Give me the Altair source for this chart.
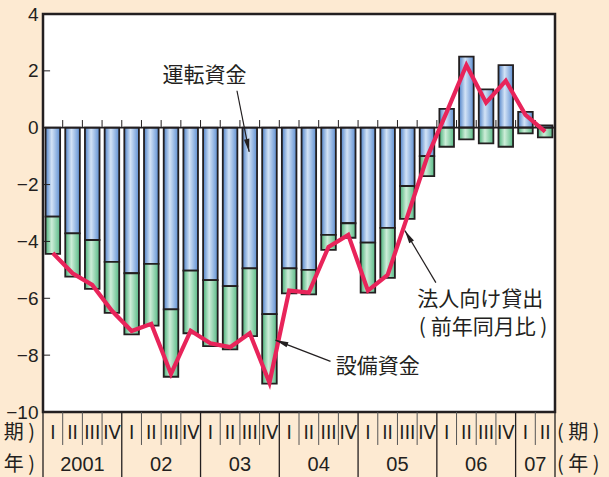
import math
import altair as alt
import pandas as pd

# ---------------- data ----------------
quarter_labels = ["I", "II", "III", "IV"] * 6 + ["I", "II"]
year_labels = ["2001", "02", "03", "04", "05", "06", "07"]
year_centers = [2, 6, 10, 14, 18, 22, 25]
year_bounds = [0, 4, 8, 12, 16, 20, 24, 26]

# 運転資金 contribution
unten = [-3.13, -3.72, -3.95, -4.72, -5.12, -4.79, -6.39, -5.03, -5.36, -5.57,
         -4.95, -6.56, -4.95, -5.00, -3.77, -3.36, -4.04, -3.52, -2.05, -1.00,
         0.66, 2.50, 1.35, 2.20, 0.56, 0.08]
# 設備資金 contribution
setsubi = [-1.31, -1.52, -1.72, -1.79, -2.15, -2.17, -2.37, -2.20, -2.32, -2.23,
           -2.38, -2.44, -0.88, -0.86, -0.53, -0.51, -1.76, -1.76, -1.16, -0.70,
           -0.67, -0.41, -0.55, -0.67, -0.20, -0.34]
# 法人向け貸出（前年同月比）
lending = [-4.41, -5.12, -5.53, -6.44, -7.15, -6.90, -8.66, -7.14, -7.58, -7.72,
           -7.23, -8.97, -5.73, -5.80, -4.19, -3.77, -5.73, -5.18, -3.13, -1.05,
           0.55, 2.20, 0.88, 1.65, 0.45, -0.14]

y_ticks = [-10, -8, -6, -4, -2, 0, 2, 4]

annot_texts = ["運転資金", "設備資金", "法人向け貸出", "( 前年同月比 )"]
annot_x = [8.2, 17.0, 22.2, 22.35]
annot_y = [1.82, -8.41, -6.06, -7.05]

arrow_x = [9.85, 14.6, 19.95]
arrow_y = [1.30, -8.22, -5.45]
arrow_x2 = [10.47, 11.8, 18.38]
arrow_y2 = [-0.85, -7.47, -3.62]

# ---------------- layout ----------------
W, H = 512, 398
NQ = len(unten)
XD = [0, NQ]
YD = [-10, 4]
INK = "#231F20"

xs = alt.Scale(domain=XD, nice=False, zero=False)
ys = alt.Scale(domain=YD, nice=False, zero=False)
yaxis = alt.Axis(values=y_ticks, ticks=False, domain=False, grid=False,
                 labelFontSize=19, labelFont="Liberation Sans", labelColor=INK,
                 labelPadding=5, title=None)


def X(f="x"):
    return alt.X(f"{f}:Q", scale=xs, axis=None)


def Y(f="y"):
    return alt.Y(f"{f}:Q", scale=ys, axis=yaxis)


# bars
blue_rows, green_rows = [], []
for i in range(NQ):
    u, s = unten[i], setsubi[i]
    blue_rows.append(dict(x=i + 0.13, x2=i + 0.87, y=0, y2=u))
    base = u if u < 0 else 0
    green_rows.append(dict(x=i + 0.13, x2=i + 0.87, y=base, y2=base + s))

blue_grad = alt.LinearGradient(
    gradient="linear", x1=0, x2=1, y1=0, y2=0,
    stops=[alt.GradientStop(color="#4F82C8", offset=0),
           alt.GradientStop(color="#D3E3F6", offset=0.42),
           alt.GradientStop(color="#5E8FD2", offset=1)])
green_grad = alt.LinearGradient(
    gradient="linear", x1=0, x2=1, y1=0, y2=0,
    stops=[alt.GradientStop(color="#48B078", offset=0),
           alt.GradientStop(color="#CDEDD8", offset=0.42),
           alt.GradientStop(color="#58BA86", offset=1)])

blue = alt.Chart(pd.DataFrame(blue_rows)).mark_bar(
    color=blue_grad, stroke=INK, strokeWidth=1.8).encode(
    x=X(), x2="x2:Q", y=Y(), y2="y2:Q")
green = alt.Chart(pd.DataFrame(green_rows)).mark_bar(
    color=green_grad, stroke=INK, strokeWidth=1.8).encode(
    x=X(), x2="x2:Q", y=Y(), y2="y2:Q")

# zero line and small ticks on it
zero = alt.Chart(pd.DataFrame({"x": [0], "x2": [NQ], "y": [0]})).mark_rule(
    color=INK, strokeWidth=1.8).encode(x=X(), x2="x2:Q", y=Y())
zt = alt.Chart(pd.DataFrame({"x": list(range(1, NQ)), "y": [0] * (NQ - 1),
                             "y2": [0.27] * (NQ - 1)})).mark_rule(
    color=INK, strokeWidth=1).encode(x=X(), y=Y(), y2="y2:Q")

# inward y ticks
ytk = [v for v in y_ticks if v not in (0, -10, 4)]
ytick = alt.Chart(pd.DataFrame({"x": [0] * len(ytk), "x2": [0.36] * len(ytk),
                                "y": ytk})).mark_rule(
    color=INK, strokeWidth=1).encode(x=X(), x2="x2:Q", y=Y())

# lending line
line = alt.Chart(pd.DataFrame({"x": [i + 0.5 for i in range(NQ)],
                               "y": lending})).mark_line(
    color="#E8245A", strokeWidth=4.2, strokeJoin="miter").encode(x=X(), y=Y())

# arrows
arr = alt.Chart(pd.DataFrame({"x": arrow_x, "y": arrow_y, "x2": arrow_x2,
                              "y2": arrow_y2})).mark_rule(
    color=INK, strokeWidth=1.2).encode(x=X(), y=Y(), x2="x2:Q", y2="y2:Q")
px_per_x = W / (XD[1] - XD[0])
px_per_y = H / (YD[1] - YD[0])
angles = []
for a, b, c, d in zip(arrow_x, arrow_y, arrow_x2, arrow_y2):
    dx = (c - a) * px_per_x
    dy = -(d - b) * px_per_y
    angles.append(math.degrees(math.atan2(dx, -dy)) % 360)
heads = alt.Chart(pd.DataFrame({"x": arrow_x2, "y": arrow_y2,
                                "a": angles})).mark_point(
    shape="M0,0L0.42,2L-0.42,2Z", filled=True, color=INK, opacity=1,
    size=170, strokeWidth=0).encode(
    x=X(), y=Y(), angle=alt.Angle("a:Q", scale=None))

# annotation texts
ann = alt.Chart(pd.DataFrame({"x": annot_x, "y": annot_y,
                              "t": annot_texts})).mark_text(
    font="Noto Sans CJK JP", fontSize=21, color=INK, align="center",
    baseline="middle").encode(x=X(), y=Y(), text="t:N")

# bottom category rows
qsep = [i for i in range(1, NQ) if i not in year_bounds]
qs = alt.Chart(pd.DataFrame({"x": qsep, "y": [-10] * len(qsep),
                             "y2": [-11.16] * len(qsep)})).mark_rule(
    color="#555", strokeWidth=1).encode(x=X(), y=Y(), y2="y2:Q")
ysep = alt.Chart(pd.DataFrame({"x": year_bounds, "y": [-10] * len(year_bounds),
                               "y2": [-12.6] * len(year_bounds)})).mark_rule(
    color=INK, strokeWidth=1.3).encode(x=X(), y=Y(), y2="y2:Q")
ql = alt.Chart(pd.DataFrame({"x": [i + 0.5 for i in range(NQ)],
                             "y": [-10.74] * NQ, "t": quarter_labels})).mark_text(
    font="Liberation Sans Narrow, DejaVu Sans Condensed, Liberation Sans",
    fontSize=20, color=INK, baseline="middle").encode(
    x=X(), y=Y(), text="t:N")
yl = alt.Chart(pd.DataFrame({"x": year_centers, "y": [-11.86] * len(year_centers),
                             "t": year_labels})).mark_text(
    font="Liberation Sans", fontSize=20, color=INK, baseline="middle").encode(
    x=X(), y=Y(), text="t:N")
side_df = pd.DataFrame({
    "x": [26.1, 26.1, -0.41, -0.41],
    "y": [-10.74, -11.86, -10.74, -11.86],
    "t": ["( 期 )", "( 年 )", "( 期 )", "( 年 )"],
    "al": ["l", "l", "r", "r"]})
side = alt.Chart(side_df).encode(x=X(), y=Y(), text="t:N")
side_r = side.transform_filter("datum.al == 'l'").mark_text(
    font="Noto Sans CJK JP", fontSize=20, color=INK, baseline="middle",
    align="left")
side_l = side.transform_filter("datum.al == 'r'").mark_text(
    font="Noto Sans CJK JP", fontSize=20, color=INK, baseline="middle",
    align="right")

chart = alt.layer(
    blue, green, zero, zt, ytick, line, arr, heads, ann, qs, ysep, ql, yl,
    side_r, side_l
).properties(
    width=W, height=H,
    autosize=alt.AutoSizeParams(type="none"),
    padding={"left": 43, "top": 14, "right": 54, "bottom": 65},
    background="#FDEAD2",
).configure_view(fill="white", stroke=INK, strokeWidth=2.5)

chart.save("out.html", embed_options={"renderer": "svg", "actions": False})
